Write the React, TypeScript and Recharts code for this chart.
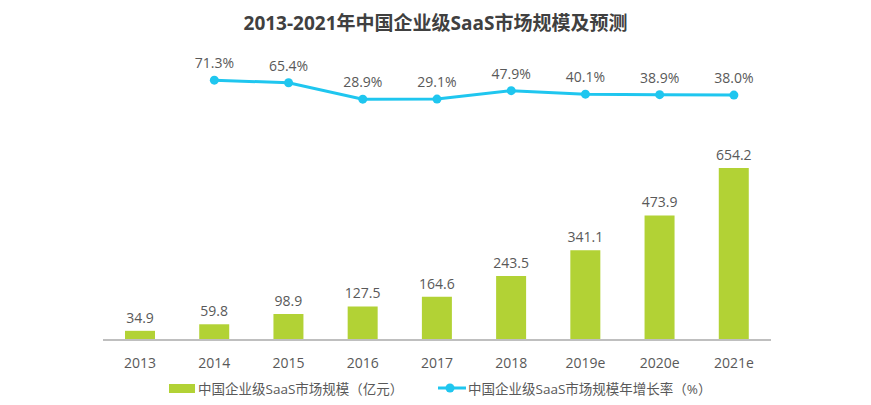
import React from 'react';
import { ComposedChart, Bar, Line, XAxis, YAxis, LabelList, Legend } from 'recharts';

const years = ['2013', '2014', '2015', '2016', '2017', '2018', '2019e', '2020e', '2021e'];
const marketSize = [34.9, 59.8, 98.9, 127.5, 164.6, 243.5, 341.1, 473.9, 654.2];
const growthRate = [null, 71.3, 65.4, 28.9, 29.1, 47.9, 40.1, 38.9, 38.0];

const data = years.map((year, i) => ({ year, size: marketSize[i], growth: growthRate[i] }));

const FONT = "'Open Sans', 'Noto Sans CJK SC', sans-serif";
const TEXT = '#595959';
const GREEN = '#b2d235';
const CYAN = '#1fc6ef';

function ChartLegend() {
  return (
    <div style={{ position: 'relative', height: 30, fontFamily: FONT, fontSize: 13.5, color: TEXT }}>
      <span style={{ position: 'absolute', left: 169, top: 9, width: 26, height: 9, background: GREEN }} />
      <span style={{ position: 'absolute', left: 198, top: 3, whiteSpace: 'nowrap' }}>中国企业级SaaS市场规模（亿元）</span>
      <svg style={{ position: 'absolute', left: 437, top: 7 }} width={30} height={12}>
        <line x1={1} y1={6} x2={29} y2={6} stroke={CYAN} strokeWidth={3} />
        <circle cx={13} cy={6} r={4.5} fill={CYAN} />
      </svg>
      <span style={{ position: 'absolute', left: 468, top: 3, whiteSpace: 'nowrap' }}>中国企业级SaaS市场规模年增长率（%）</span>
    </div>
  );
}

export default function App() {
  return (
    <div style={{ position: 'absolute', left: 0, top: 0, width: 871, height: 405, background: '#fff' }}>
      <div
        style={{
          position: 'absolute',
          left: 0,
          top: 8,
          width: 871,
          textAlign: 'center',
          fontFamily: FONT,
          fontWeight: 'bold',
          fontSize: 19,
          color: '#404040',
          zIndex: 1,
        }}
      >
        2013-2021年中国企业级SaaS市场规模及预测
      </div>
      <ComposedChart width={871} height={405} data={data} margin={{ top: 40, right: 100, bottom: 0, left: 103 }}>
        <XAxis
          dataKey="year"
          height={35}
          tickLine={false}
          axisLine={{ stroke: '#bfbfbf', strokeWidth: 2 }}
          tick={{ fill: TEXT, fontSize: 14, fontFamily: FONT }}
          tickMargin={12}
        />
        <YAxis yAxisId="size" hide domain={[0, 1141]} />
        <YAxis yAxisId="growth" orientation="right" hide domain={[-509, 161]} />
        <Legend
          verticalAlign="bottom"
          height={30}
          wrapperStyle={{ left: 0, width: 871 }}
          content={() => <ChartLegend />}
        />
        <Bar yAxisId="size" dataKey="size" fill={GREEN} barSize={30} isAnimationActive={false}>
          <LabelList dataKey="size" position="top" offset={8} fill={TEXT} fontSize={14} fontFamily={FONT} />
        </Bar>
        <Line
          yAxisId="growth"
          dataKey="growth"
          stroke={CYAN}
          strokeWidth={3}
          dot={{ r: 4.5, fill: CYAN, stroke: CYAN, strokeWidth: 0 }}
          activeDot={false}
          connectNulls={false}
          isAnimationActive={false}
        >
          <LabelList
            dataKey="growth"
            position="top"
            offset={12}
            fill={TEXT}
            fontSize={14}
            fontFamily={FONT}
            formatter={(v: any) => (v == null ? '' : `${Number(v).toFixed(1)}%`)}
          />
        </Line>
      </ComposedChart>
    </div>
  );
}
